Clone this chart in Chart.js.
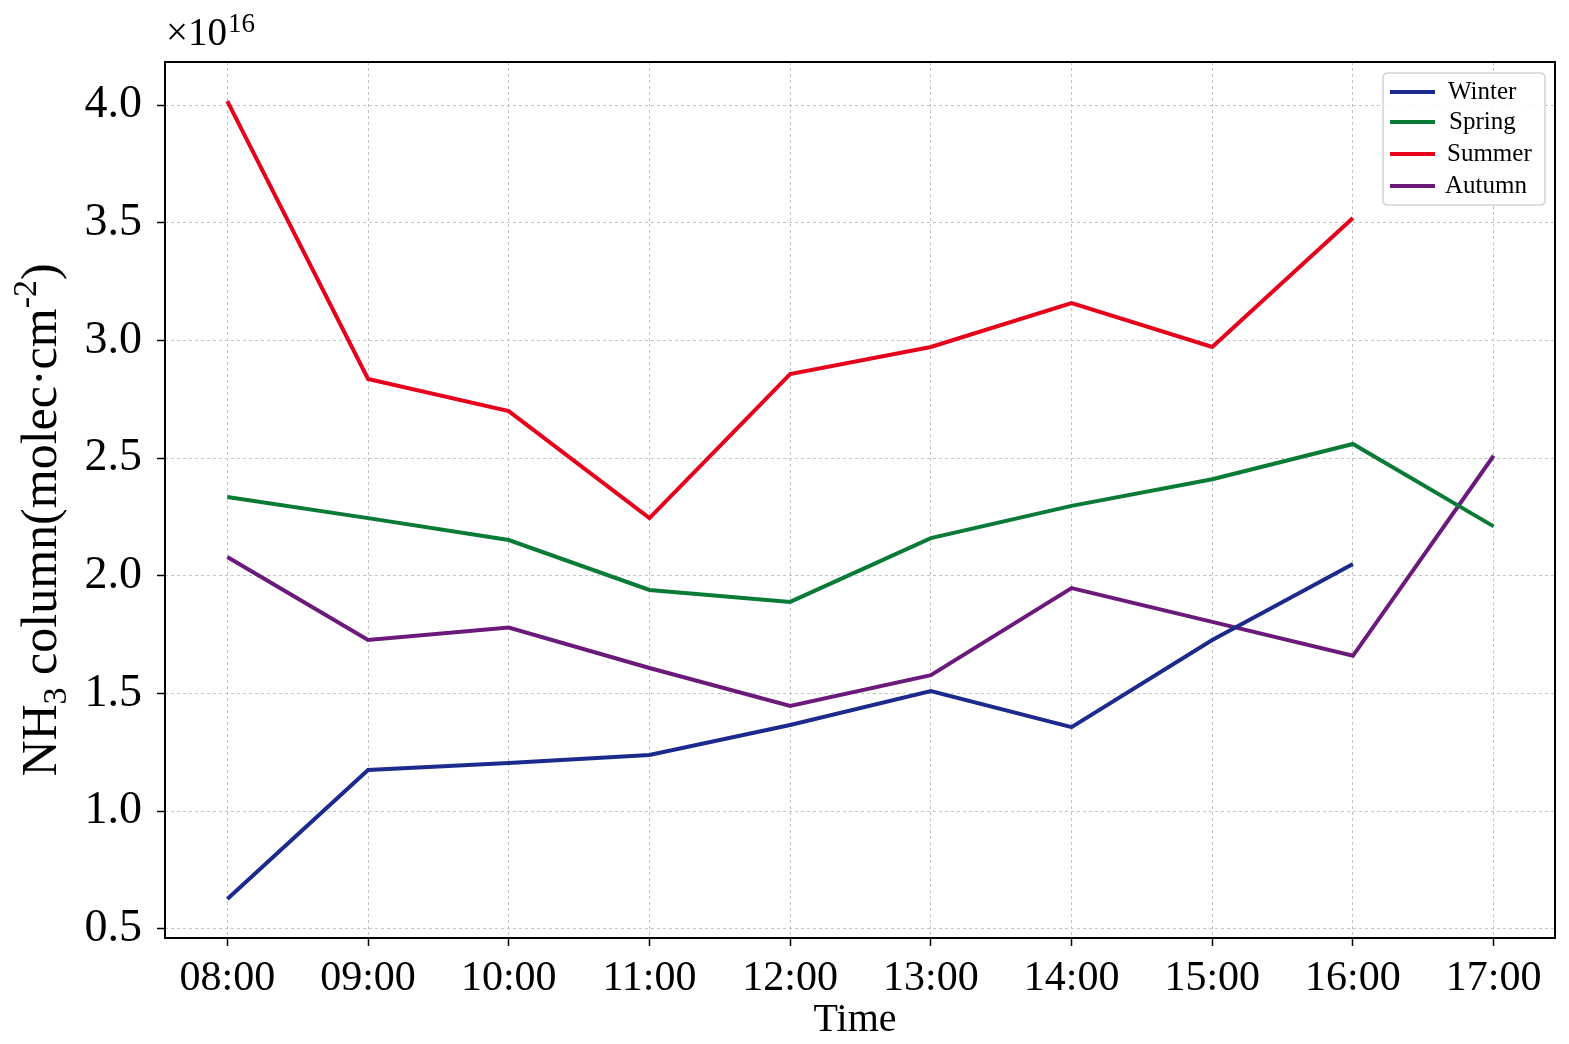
<!DOCTYPE html>
<html>
<head>
<meta charset="utf-8">
<script src="https://cdn.jsdelivr.net/npm/chart.js@4/dist/chart.umd.min.js"></script>
<style>
html,body{margin:0;padding:0;background:#fff;}
#wrap{width:1569px;height:1044px;position:relative;}
</style>
</head>
<body>
<div id="wrap"><canvas id="c" width="1569" height="1044"></canvas></div>
<script>
// ---- data ----
const timeLabels = ["08:00","09:00","10:00","11:00","12:00","13:00","14:00","15:00","16:00","17:00"];
const winter = [0.627, 1.175, 1.205, 1.239, 1.366, 1.51, 1.357, 1.727, 2.05, null];
const spring = [2.335, 2.245, 2.152, 1.94, 1.889, 2.16, 2.297, 2.41, 2.56, 2.21];
const summer = [4.017, 2.836, 2.70, 2.245, 2.857, 2.972, 3.159, 2.972, 3.52, null];
const autumn = [2.08, 1.727, 1.78, 1.608, 1.447, 1.578, 1.948, 1.804, 1.66, 2.51];
const yTicks = [0.5, 1.0, 1.5, 2.0, 2.5, 3.0, 3.5, 4.0];
const seriesNames = ["Winter","Spring","Summer","Autumn"];
const seriesColors = ["#1c2a8e","#0a7a37","#e6001c","#6b1a7b"];
const seriesData = [winter, spring, summer, autumn];

const SERIF = "'Liberation Serif','Times New Roman',serif";

function toPoints(arr){
  const pts = [];
  arr.forEach((v,i)=>{ if(v!==null) pts.push({x:i, y:v}); });
  return pts;
}

const datasets = seriesNames.map((n,k)=>({
  label: n,
  data: toPoints(seriesData[k]),
  borderColor: seriesColors[k],
  backgroundColor: seriesColors[k],
  borderWidth: 4,
  pointRadius: 0,
  tension: 0,
  fill: false
}));

const decorPlugin = {
  id: 'decor',
  afterDatasetsDraw(chart){
    const ctx = chart.ctx;
    const a = chart.chartArea;
    ctx.save();
    // frame
    ctx.strokeStyle = '#000';
    ctx.lineWidth = 2;
    ctx.strokeRect(a.left, a.top, a.right - a.left, a.bottom - a.top);

    // legend
    const lx = 1383, ly = 73, lw = 162, lh = 132, r = 5;
    ctx.beginPath();
    ctx.moveTo(lx + r, ly);
    ctx.lineTo(lx + lw - r, ly);
    ctx.quadraticCurveTo(lx + lw, ly, lx + lw, ly + r);
    ctx.lineTo(lx + lw, ly + lh - r);
    ctx.quadraticCurveTo(lx + lw, ly + lh, lx + lw - r, ly + lh);
    ctx.lineTo(lx + r, ly + lh);
    ctx.quadraticCurveTo(lx, ly + lh, lx, ly + lh - r);
    ctx.lineTo(lx, ly + r);
    ctx.quadraticCurveTo(lx, ly, lx + r, ly);
    ctx.closePath();
    ctx.fillStyle = 'rgba(255,255,255,0.85)';
    ctx.fill();
    ctx.strokeStyle = '#d4d4d4';
    ctx.lineWidth = 1.5;
    ctx.stroke();
    const rowY = [92, 122, 154, 186];
    const textX = [1448, 1449, 1447, 1445];
    chart.data.datasets.forEach((ds, i) => {
      ctx.strokeStyle = ds.borderColor;
      ctx.lineWidth = 4;
      ctx.beginPath();
      ctx.moveTo(1390, rowY[i]);
      ctx.lineTo(1435, rowY[i]);
      ctx.stroke();
      ctx.fillStyle = '#000';
      ctx.font = '25px ' + SERIF;
      ctx.textAlign = 'left';
      ctx.textBaseline = 'middle';
      ctx.fillText(ds.label, textX[i], rowY[i]);
    });
    ctx.restore();
  },
  afterDraw(chart){
    const ctx = chart.ctx;
    const a = chart.chartArea;
    ctx.save();
    ctx.fillStyle = '#000';
    // x title
    ctx.font = '40px ' + SERIF;
    ctx.textAlign = 'center';
    ctx.textBaseline = 'alphabetic';
    ctx.fillText('Time', (a.left + a.right) / 2 - 5, 1031);

    // multiplier
    ctx.textAlign = 'left';
    ctx.font = '39px ' + SERIF;
    ctx.fillText('\u00d710', 166, 45);
    const w1 = ctx.measureText('\u00d710').width;
    ctx.font = '27px ' + SERIF;
    ctx.fillText('16', 166 + w1 + 1, 32);

    // y title, rotated, with sub/superscripts
    const parts = [
      {t:'NH', s:50, dy:0},
      {t:'3', s:34, dy:10},
      {t:' column(molec\u00b7cm', s:50, dy:0},
      {t:'-2', s:34, dy:-20},
      {t:')', s:50, dy:0}
    ];
    let total = 0;
    parts.forEach(p => { ctx.font = p.s + 'px ' + SERIF; p.w = ctx.measureText(p.t).width; total += p.w; });
    ctx.translate(56, 520);
    ctx.rotate(-Math.PI / 2);
    let x = -total / 2;
    parts.forEach(p => {
      ctx.font = p.s + 'px ' + SERIF;
      ctx.fillText(p.t, x, p.dy);
      x += p.w;
    });
    ctx.restore();
  }
};

new Chart(document.getElementById('c'), {
  type: 'line',
  data: { datasets },
  options: {
    responsive: false,
    animation: false,
    devicePixelRatio: 1,
    layout: { padding: { left: 0, top: 62, right: 14, bottom: 0 } },
    plugins: { legend: { display: false }, tooltip: { enabled: false }, title: { display: false } },
    scales: {
      x: {
        type: 'linear',
        min: -0.443,
        max: 9.436,
        afterBuildTicks(scale){ scale.ticks = timeLabels.map((l, i) => ({ value: i })); },
        afterFit(scale){ scale.height = 106; },
        ticks: {
          autoSkip: false,
          maxRotation: 0,
          color: '#000',
          font: { family: SERIF, size: 42 },
          padding: 8,
          callback: (v) => timeLabels[v] ?? ''
        },
        grid: {
          color: '#c4c4c4',
          lineWidth: 1,
          drawTicks: true,
          tickLength: 8,
          tickColor: '#000',
          tickWidth: 1.5,
          tickBorderDash: []
        },
        border: { display: false, dash: [3, 3] }
      },
      y: {
        type: 'linear',
        min: 0.461,
        max: 4.183,
        afterBuildTicks(scale){ scale.ticks = yTicks.map(v => ({ value: v })); },
        afterFit(scale){ scale.width = 165; },
        ticks: {
          color: '#000',
          font: { family: SERIF, size: 46 },
          padding: 15,
          callback: (v) => v.toFixed(1)
        },
        grid: {
          color: '#c4c4c4',
          lineWidth: 1,
          drawTicks: true,
          tickLength: 8,
          tickColor: '#000',
          tickWidth: 1.5,
          tickBorderDash: []
        },
        border: { display: false, dash: [3, 3] }
      }
    }
  },
  plugins: [decorPlugin]
});
</script>
</body>
</html>
